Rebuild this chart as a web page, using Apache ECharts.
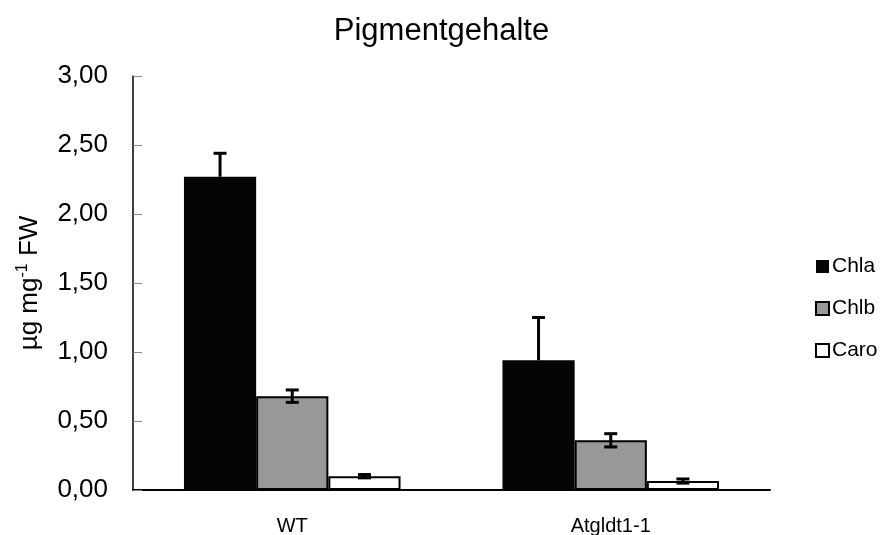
<!DOCTYPE html>
<html>
<head>
<meta charset="utf-8">
<script src="https://cdn.jsdelivr.net/npm/echarts@6/dist/echarts.min.js"></script>
<style>
html,body{margin:0;padding:0;background:#fff;}
#chart{width:883px;height:535px;}
</style>
</head>
<body>
<div id="chart"></div>
<script>
var categories = ['WT', 'Atgldt1-1'];
var seriesNames = ['Chla', 'Chlb', 'Caro'];
var chla = [2.27, 0.94];
var chlaErr = [0.17, 0.31];
var chlb = [0.68, 0.36];
var chlbErr = [0.045, 0.048];
var caro = [0.10, 0.065];
var caroErr = [0.012, 0.015];
var yTicks = [0, 0.5, 1, 1.5, 2, 2.5, 3];

var FONT = '"Liberation Sans", Arial, sans-serif';
var values = [chla, chlb, caro];
var errors = [chlaErr, chlbErr, caroErr];
var fills = ['#050505', '#989898', '#ffffff'];
var CAT_GAP = 0.32;

var chart = echarts.init(document.getElementById('chart'), null, {renderer: 'canvas'});

var series = [];
seriesNames.forEach(function (name, i) {
  series.push({
    name: name,
    type: 'bar',
    data: values[i],
    barGap: '0%',
    barCategoryGap: (CAT_GAP * 100) + '%',
    itemStyle: {
      color: fills[i],
      borderColor: '#000',
      borderWidth: i === 0 ? 0 : 2
    },
    emphasis: {disabled: true},
    z: 2
  });
});

var errData = [];
values.forEach(function (vals, i) {
  vals.forEach(function (v, j) {
    errData.push([j, v, errors[i][j], i]);
  });
});

series.push({
  name: 'err',
  type: 'custom',
  data: errData,
  z: 5,
  silent: true,
  renderItem: function (params, api) {
    var cat = api.value(0);
    var v = api.value(1);
    var e = api.value(2);
    var idx = api.value(3);
    var bandW = api.size([1, 0])[0];
    var barW = bandW * (1 - CAT_GAP) / 3;
    var base = api.coord([cat, v]);
    var x = base[0] + (idx - 1) * barW;
    var top = api.coord([cat, v + e])[1];
    var bot = idx === 0 ? base[1] : api.coord([cat, v - e])[1];
    var hw = 6.5;
    var style = {stroke: '#000', lineWidth: 3};
    var children = [
      {type: 'line', shape: {x1: x, y1: top, x2: x, y2: bot}, style: style},
      {type: 'line', shape: {x1: x - hw, y1: top, x2: x + hw, y2: top}, style: style}
    ];
    if (idx !== 0) {
      children.push({type: 'line', shape: {x1: x - hw, y1: bot, x2: x + hw, y2: bot}, style: style});
    }
    return {type: 'group', children: children};
  }
});

var option = {
  backgroundColor: '#fff',
  animation: false,
  title: {
    text: 'Pigmentgehalte',
    left: 'center',
    top: 11,
    textStyle: {fontFamily: FONT, fontSize: 31, fontWeight: 'normal', color: '#000'}
  },
  legend: {
    orient: 'vertical',
    left: 810,
    top: 251,
    itemWidth: 13,
    itemHeight: 13,
    itemGap: 21,
    icon: 'rect',
    data: seriesNames.map(function (n, i) {
      return {
        name: n,
        itemStyle: {color: fills[i], borderColor: '#000', borderWidth: i === 0 ? 0 : 2}
      };
    }),
    textStyle: {fontFamily: FONT, fontSize: 21, color: '#000', padding: [0, 0, 0, -2]}
  },
  grid: {left: 133, right: 113, top: 76, bottom: 45, containLabel: false, outerBoundsMode: 'none'},
  xAxis: {
    type: 'category',
    data: categories,
    axisLine: {lineStyle: {color: '#000', width: 2}},
    axisTick: {show: false},
    axisLabel: {fontFamily: FONT, fontSize: 20, color: '#000', margin: 26}
  },
  yAxis: {
    type: 'value',
    min: yTicks[0],
    max: yTicks[yTicks.length - 1],
    interval: yTicks[1] - yTicks[0],
    name: '{a|µg mg}{s|-1}{a| FW}',
    nameLocation: 'middle',
    nameGap: 88,
    nameRotate: 90,
    nameTextStyle: {
      rich: {
        a: {fontFamily: FONT, fontSize: 26, color: '#000', lineHeight: 30},
        s: {fontFamily: FONT, fontSize: 16, color: '#000', lineHeight: 30, verticalAlign: 'top', padding: [0, 0, 10, 0]}
      }
    },
    axisLine: {show: true, lineStyle: {color: '#000', width: 1.5}},
    axisTick: {show: true, inside: true, length: 9, lineStyle: {color: '#888', width: 1}},
    splitLine: {show: false},
    axisLabel: {
      fontFamily: FONT, fontSize: 26, color: '#000', margin: 25,
      formatter: function (v) { return v.toFixed(2).replace('.', ','); }
    }
  },
  series: series
};
chart.setOption(option);
</script>
</body>
</html>
